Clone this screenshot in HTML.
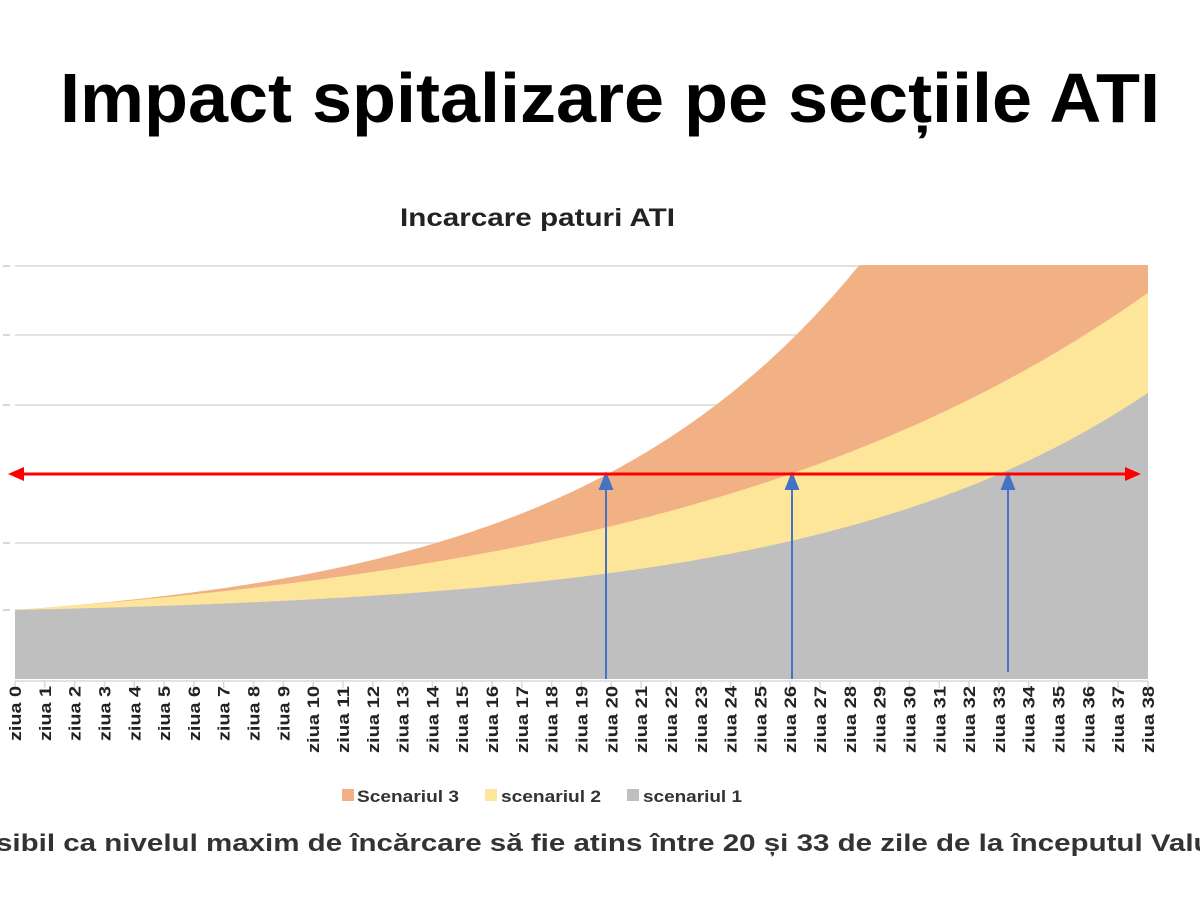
<!DOCTYPE html>
<html><head><meta charset="utf-8"><style>
html,body{margin:0;padding:0;background:#fff;width:1200px;height:900px;overflow:hidden}
</style></head><body>
<svg id="s" width="1200" height="900" xmlns="http://www.w3.org/2000/svg" font-family="'Liberation Sans', 'DejaVu Sans', sans-serif">
<text x="60" y="122" font-size="70" font-weight="bold" fill="#000" textLength="1100" lengthAdjust="spacingAndGlyphs">Impact spitalizare pe secțiile ATI</text>
<text x="400" y="226" font-size="25" font-weight="bold" fill="#222" textLength="275" lengthAdjust="spacingAndGlyphs">Incarcare paturi ATI</text>
<g id="grid" stroke="#d9d9d9" stroke-width="1.5">
<line x1="15" x2="1148" y1="266" y2="266"/><line x1="15" x2="1148" y1="335" y2="335"/><line x1="15" x2="1148" y1="405" y2="405"/>
<line x1="15" x2="1148" y1="474" y2="474"/><line x1="15" x2="1148" y1="543" y2="543"/><line x1="15" x2="1148" y1="610" y2="610"/>
</g>
<g stroke="#ccc" stroke-width="1.5"><line x1="3" x2="10" y1="266" y2="266"/><line x1="3" x2="10" y1="335" y2="335"/><line x1="3" x2="10" y1="405" y2="405"/><line x1="3" x2="10" y1="543" y2="543"/><line x1="3" x2="10" y1="610" y2="610"/></g>
<path id="p3" fill="#f2b184"/>
<path id="p2" fill="#fde59a"/>
<path id="p1" fill="#bfbfbf"/>
<line x1="15" x2="1148" y1="681" y2="681" stroke="#d9d9d9" stroke-width="1.5"/>
<g id="ticks" stroke="#d9d9d9" stroke-width="1.5"></g>
<g id="labels" font-size="17" font-weight="bold" fill="#222"></g>
<g stroke="#4472c4" stroke-width="2" fill="#4472c4">
<line x1="606" y1="679" x2="606" y2="486"/><polygon points="600,489 612,489 606,474"/>
<line x1="792" y1="679" x2="792" y2="486"/><polygon points="786,489 798,489 792,474"/>
<line x1="1008" y1="672" x2="1008" y2="486"/><polygon points="1002,489 1014,489 1008,474"/>
</g>
<g fill="#f00" stroke="#f00">
<line x1="22" x2="1128" y1="474" y2="474" stroke-width="3"/>
<polygon points="8,474 24,467 24,481" stroke="none"/>
<polygon points="1141,474 1125,467 1125,481" stroke="none"/>
</g>
<g font-size="17" font-weight="bold" fill="#333">
<rect x="342" y="789" width="12" height="12" fill="#f2b184"/><text x="357" y="802" textLength="102" lengthAdjust="spacingAndGlyphs">Scenariul 3</text>
<rect x="485" y="789" width="12" height="12" fill="#fde59a"/><text x="501" y="802" textLength="100" lengthAdjust="spacingAndGlyphs">scenariul 2</text>
<rect x="627" y="789" width="12" height="12" fill="#bfbfbf"/><text x="643" y="802" textLength="99" lengthAdjust="spacingAndGlyphs">scenariul 1</text>
</g>
<text x="-4" y="851" font-size="24" font-weight="bold" fill="#333" textLength="1250" lengthAdjust="spacingAndGlyphs">sibil ca nivelul maxim de încărcare să fie atins între 20 și 33 de zile de la începutul Valului</text>
</svg>
<script>
var X=function(d){return 15+d*(1133/38)},Y=function(v){return 679-69*v};
function f(b,k,d){return 1+b*(Math.exp(k*d)-1)}
function area(b,k){var s='M15,679';for(var i=0;i<=380;i++){var d=i/10;var v=Math.min(f(b,k,d),6);s+=' L'+X(d).toFixed(1)+','+Y(v).toFixed(1);}return s+' L1148,679 Z';}
document.getElementById('p1').setAttribute('d',area(0.1065,0.09));
document.getElementById('p2').setAttribute('d',area(0.524,0.06));
document.getElementById('p3').setAttribute('d',area(0.313,0.1));
var t='',l='';
for(var d=0;d<=38;d++){var x=X(d);t+='<line x1="'+x+'" x2="'+x+'" y1="681" y2="688"/>';
var L=d<10?55:67;
l+='<text transform="translate('+(x+6)+',686) rotate(-90)" text-anchor="end" textLength="'+L+'" lengthAdjust="spacingAndGlyphs">ziua '+d+'</text>';}
document.getElementById('ticks').innerHTML=t;document.getElementById('labels').innerHTML=l;
</script>
</body></html>
